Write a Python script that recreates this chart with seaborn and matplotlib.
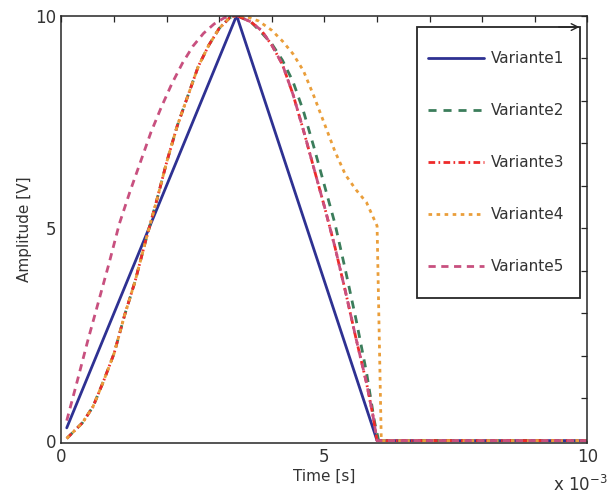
import matplotlib
matplotlib.use('Agg')
import pandas as pd
import matplotlib.pyplot as plt
import seaborn as sns
from matplotlib.ticker import MultipleLocator
from matplotlib.patches import Rectangle

# time in ms (axis is shown as x 10^-3 s), amplitude in V
v1_t = [0.1, 3.33, 6.0, 10.0]
v1_v = [0.3, 10.0, 0.0, 0.0]

# common rise of Variante2/3/4
rise_t = [0.1, 0.4, 0.6, 0.8, 1.0, 1.2, 1.4, 1.6, 1.8, 2.0, 2.2, 2.4, 2.6, 2.8, 3.0, 3.2, 3.33]
rise_v = [0.05, 0.42, 0.8, 1.4, 2.05, 2.95, 3.75, 4.7, 5.6, 6.55, 7.4, 8.1, 8.8, 9.3, 9.7, 9.95, 10.0]

# Variante5 rise
pink_t = [0.1, 0.3, 0.5, 0.7, 0.9, 1.1, 1.3, 1.5, 1.7, 1.9, 2.1, 2.3, 2.5, 2.7, 2.9, 3.1, 3.33]
pink_v = [0.47, 1.4, 2.35, 3.25, 4.15, 5.1, 5.85, 6.55, 7.25, 7.85, 8.4, 8.88, 9.28, 9.58, 9.8, 9.95, 10.0]

# falling edges
green_t = [3.6, 3.8, 4.0, 4.2, 4.4, 4.6, 4.8, 5.0, 5.2, 5.4, 5.6, 5.8, 5.95, 6.03, 10.0]
green_v = [9.85, 9.6, 9.33, 8.95, 8.45, 7.75, 6.9, 6.0, 5.1, 4.0, 2.85, 1.6, 0.45, 0.0, 0.0]

fall_t = [3.6, 3.8, 4.0, 4.2, 4.4, 4.6, 4.8, 5.0, 5.2, 5.4, 5.6, 5.8, 5.92, 6.0, 10.0]
fall_v = [9.85, 9.65, 9.3, 8.85, 8.15, 7.3, 6.4, 5.5, 4.55, 3.5, 2.4, 1.35, 0.6, 0.0, 0.0]

orange_t = [3.5, 3.75, 4.0, 4.2, 4.4, 4.6, 4.8, 5.0, 5.2, 5.4, 5.6, 5.8, 6.0, 6.08, 10.0]
orange_v = [9.98, 9.87, 9.65, 9.4, 9.1, 8.7, 8.1, 7.45, 6.8, 6.25, 5.9, 5.6, 5.05, 0.0, 0.0]

names = ['Variante1', 'Variante2', 'Variante3', 'Variante4', 'Variante5']
colors = ['#2E3192', '#3B7D5B', '#EE2A2A', '#EA9E3A', '#C8507F']
styles = ['', (2.9, 2.5), (2.4, 1.2, 0.6, 1.2), (1.3, 1.6), (2.6, 2.0)]

series = {
    'Variante1': (v1_t, v1_v),
    'Variante2': (rise_t + green_t, rise_v + green_v),
    'Variante3': (rise_t + fall_t, rise_v + fall_v),
    'Variante4': (rise_t + orange_t, rise_v + orange_v),
    'Variante5': (pink_t + fall_t, pink_v + fall_v),
}
rows = []
for name, (ts, vs) in series.items():
    for t, v in zip(ts, vs):
        rows.append({'Time': t, 'Amplitude': v, 'Variante': name})
df = pd.DataFrame(rows)

sns.set_theme(style='white')
plt.rcParams['font.family'] = ['DejaVu Sans']
edge = '#262626'

fig = plt.figure(figsize=(6.16, 4.94), dpi=100)
ax = fig.add_axes([0.0998, 0.1038, 0.8539, 0.8648])

sns.lineplot(data=df, x='Time', y='Amplitude', hue='Variante', style='Variante',
             palette=dict(zip(names, colors)), dashes=dict(zip(names, styles)),
             estimator=None, sort=False, linewidth=2, ax=ax)

ax.set_xlim(0, 10)
ax.set_ylim(-0.05, 10)
ax.xaxis.set_major_locator(MultipleLocator(5))
ax.xaxis.set_minor_locator(MultipleLocator(1))
ax.yaxis.set_major_locator(MultipleLocator(5))
ax.yaxis.set_minor_locator(MultipleLocator(1))
ax.tick_params(which='both', direction='in', top=True, right=True, length=4,
               width=0.9, color=edge, labelsize=12, labelcolor='#333333', pad=4)
for s in ax.spines.values():
    s.set_color(edge)
    s.set_linewidth(1.1)

ax.set_xlabel('Time [s]', fontsize=11, color='#333333', labelpad=2)
ax.set_ylabel('Amplitude [V]', fontsize=11, color='#333333', labelpad=2)
fig.text(0.987, 0.006, 'x 10$^{-3}$', ha='right', va='baseline', fontsize=12, color='#333333')

# legend box drawn separately so the padding matches
ax.add_patch(Rectangle((0.676, 0.339), 0.31, 0.634, transform=ax.transAxes,
                       facecolor='white', edgecolor=edge, linewidth=1.3, zorder=5))
handles, labels = ax.get_legend_handles_labels()
leg = ax.legend(handles, labels, loc='upper left', bbox_to_anchor=(0.676, 0.942),
                borderaxespad=0, fontsize=11, handlelength=3.7, handletextpad=0.45,
                labelspacing=2.42, borderpad=0.7, frameon=False)
leg.set_zorder(6)
for t in leg.get_texts():
    t.set_color('#333333')

ax.annotate('', xy=(0.99, 0.973), xytext=(0.94, 0.973), xycoords='axes fraction',
            arrowprops=dict(arrowstyle='->', color=edge, lw=1), zorder=7)

fig.savefig('out.png', dpi=100)
